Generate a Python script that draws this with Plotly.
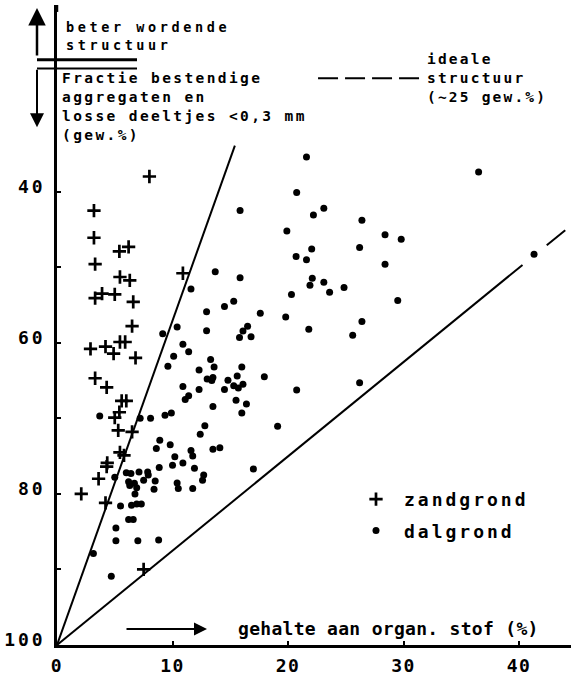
import plotly.graph_objects as go

# ---- data ----
zand_x = [8.0, 3.2, 3.2, 3.3, 5.4, 6.2, 5.45, 6.3, 3.3, 3.9, 5.0, 6.6, 6.5, 2.9, 4.2, 4.9,
          5.45, 5.9, 6.8, 3.3, 4.3, 5.6, 6.0, 5.0, 5.4, 5.3, 6.5, 5.45, 5.8, 4.35, 4.3, 3.6,
          2.1, 4.2, 10.9, 7.5]
zand_y = [38.0, 42.5, 46.1, 49.6, 47.9, 47.3, 51.3, 51.75, 54.1, 53.5, 53.6, 54.6, 57.8, 60.8,
          60.5, 61.45, 59.9, 59.9, 62.0, 64.7, 65.9, 67.7, 67.7, 69.9, 69.2, 71.6, 71.8, 74.5,
          74.9, 75.9, 76.4, 78.0, 80.0, 81.2, 50.8, 90.0]

dal_x = [21.6, 20.75, 36.5,
         11.6, 9.15, 10.4, 10.9, 11.4, 10.1, 9.6, 10.9, 12.3, 11.4, 11.1, 12.3,
         3.7, 7.2, 8.1, 9.35, 9.9, 8.9, 8.6, 9.8, 10.2, 10.9, 11.6, 11.75, 11.9, 10.0, 8.85,
         7.85, 7.9, 7.1, 5.0, 6.0, 6.4, 6.2, 6.3, 6.7, 6.9, 7.5, 8.5, 8.4, 6.75, 10.4, 10.5,
         11.75, 5.5, 6.45, 6.9, 7.3, 6.2, 6.6, 5.1, 5.1, 7.0, 8.8, 3.15, 4.7,
         15.85, 23.1, 22.2, 26.4, 19.9, 26.2, 22.05, 20.7, 21.6, 13.7, 15.85, 22.1, 21.9, 23.1,
         23.6, 24.85, 20.3, 15.3, 14.5, 12.95, 17.6, 19.8, 12.95, 21.8, 26.4, 25.6, 16.5, 16.1,
         15.8, 16.8, 13.3, 13.6, 16.0, 13.0, 13.4, 13.5, 14.8, 15.6, 15.3, 15.7, 16.1, 17.95,
         14.5, 15.5, 16.4, 13.5, 20.75, 26.2,
         16.0, 19.1, 12.8, 12.4, 13.5, 14.1, 17.0, 12.7, 12.6,
         28.4, 29.8, 28.4, 29.5, 41.3]
dal_y = [35.4, 40.1, 37.4,
         52.9, 58.8, 57.9, 60.2, 61.2, 61.8, 63.1, 65.8, 66.2, 67.0, 67.5, 63.6,
         69.7, 70.0, 70.0, 69.6, 69.3, 72.9, 74.0, 73.5, 75.1, 75.9, 74.25, 75.0, 76.6, 76.2,
         76.5, 77.1, 77.5, 77.1, 77.8, 77.2, 77.3, 78.4, 78.9, 78.6, 79.2, 78.2, 78.3, 79.4,
         80.0, 78.55, 79.3, 79.3, 81.6, 81.5, 81.35, 81.35, 83.4, 83.4, 84.5, 86.2, 86.2, 86.1,
         87.9, 90.9,
         42.5, 42.2, 43.1, 43.8, 45.2, 47.4, 47.6, 48.6, 49.0, 50.6, 51.4, 51.45, 52.4, 52.0,
         53.3, 52.7, 53.6, 54.5, 55.2, 55.9, 56.1, 56.6, 58.4, 58.2, 57.2, 59.0, 57.8, 58.45,
         59.3, 59.2, 62.2, 63.2, 63.2, 64.8, 65.0, 64.6, 64.95, 64.4, 65.7, 66.0, 65.5, 64.5,
         66.2, 67.6, 68.1, 68.45, 66.25, 65.3,
         69.3, 71.05, 71.0, 72.1, 74.1, 73.9, 76.7, 77.5, 78.2,
         45.7, 46.3, 49.6, 54.4, 48.3]

steep_x = [0, 15.4]
steep_y = [100, 33.9]
shallow_x = [0, 40.3, None, 42.4, 44.0]
shallow_y = [100, 49.7, None, 47.1, 45.1]
ideal_x = [22.6, 31.6]
ideal_y = [25, 25]

x_ticks = [0, 10, 20, 30, 40]
x_ticktext = ["0", "10", "20", "30", "40"]
y_ticks = [40, 50, 60, 70, 80, 90, 100]
y_ticktext = ["40", "", "60", "", "80", "", "100"]

FONT = "DejaVu Sans Mono"
W, H = 571, 676
L, R, T, B = 57, 0, 5, 27
PW, PH = W - L - R, H - T - B


def px(x):
    return (x - L) / PW


def py(y):
    return (H - B - y) / PH


def spaced(s, sp):
    return '<span style="letter-spacing:%spx">%s</span>' % (sp, s) if s else ""


fig = go.Figure()
fig.add_trace(go.Scatter(x=steep_x, y=steep_y, mode="lines",
                         line=dict(color="black", width=2), showlegend=False, hoverinfo="skip"))
fig.add_trace(go.Scatter(x=shallow_x, y=shallow_y, mode="lines",
                         line=dict(color="black", width=2), showlegend=False, hoverinfo="skip"))
fig.add_trace(go.Scatter(x=ideal_x, y=ideal_y, mode="lines",
                         line=dict(color="black", width=2, dash="20px,7px"), showlegend=False,
                         hoverinfo="skip"))
fig.add_trace(go.Scatter(x=zand_x, y=zand_y, mode="markers", name=spaced("zandgrond", 3),
                         legendgroup="z",
                         marker=dict(symbol="cross-thin", size=9.5, color="black",
                                     line=dict(color="black", width=2.7))))
fig.add_trace(go.Scatter(x=dal_x, y=dal_y, mode="markers", name=spaced("dalgrond", 3),
                         legendgroup="d",
                         marker=dict(symbol="circle", size=7, color="black")))

ann = []
shapes = []
# top-left arrows & separators
ann.append(dict(x=px(37), y=py(8), xref="paper", yref="paper", ax=0, ay=49, text="",
                showarrow=True, arrowhead=2, arrowsize=1.4, arrowwidth=2.5, arrowcolor="black"))
ann.append(dict(x=px(37), y=py(128), xref="paper", yref="paper", ax=0, ay=-59, text="",
                showarrow=True, arrowhead=2, arrowsize=1.4, arrowwidth=2, arrowcolor="black"))
shapes.append(dict(type="line", xref="paper", yref="paper", x0=px(37), x1=px(137),
                   y0=py(60), y1=py(60), line=dict(color="black", width=3)))
shapes.append(dict(type="line", xref="paper", yref="paper", x0=px(37), x1=px(137),
                   y0=py(69), y1=py(69), line=dict(color="black", width=2)))
shapes.append(dict(type="line", xref="paper", yref="paper", x0=0, x1=0,
                   y0=1, y1=py(12), line=dict(color="black", width=2.5)))


def txt(x, y, lines, size, sp):
    s = "<br>".join(spaced(t, sp) for t in lines)
    ann.append(dict(x=px(x), y=py(y), xref="paper", yref="paper",
                    text=s, showarrow=False, align="left",
                    xanchor="left", yanchor="middle",
                    font=dict(family=FONT, size=size, color="black", weight="bold")))


txt(64, 36.5, ["beter wordende", "structuur"], 13.5, 3.6)
txt(60, 107, ["Fractie bestendige", "aggregaten en", "losse deeltjes &lt;0,3 mm",
              "(gew.%)"], 14.5, 2.4)
txt(425, 78, ["ideale", "structuur", "(~25 gew.%)"], 14.5, 2.2)
txt(236, 632, ["gehalte aan organ. stof (%)"], 18, 0.3)

ann.append(dict(x=px(207), y=py(633), xref="paper", yref="paper", ax=-82, ay=0, text="",
                showarrow=True, arrowhead=2, arrowsize=1.3, arrowwidth=2, arrowcolor="black"))

tickfont = dict(family=FONT, size=18, color="black", weight="bold")

fig.update_layout(
    width=W, height=H,
    margin=dict(l=L, r=R, t=T, b=B, pad=0),
    paper_bgcolor="white", plot_bgcolor="white",
    font=dict(family=FONT, size=18, color="black"),
    annotations=ann, shapes=shapes,
    showlegend=True,
    legend=dict(x=px(348), y=py(484), xanchor="left", yanchor="top",
                bgcolor="rgba(0,0,0,0)", borderwidth=0, itemwidth=46,
                tracegroupgap=5, traceorder="grouped",
                font=dict(family=FONT, size=18, color="black", weight="bold")),
    xaxis=dict(range=[0, 44.5], showgrid=False, zeroline=False, showline=True,
               linecolor="black", linewidth=2.5, tickvals=x_ticks,
               ticktext=[spaced(t, 1.5) for t in x_ticktext], ticks="inside",
               ticklen=4, tickwidth=2, tickcolor="black", tickfont=tickfont,
               ticklabelstandoff=3),
    yaxis=dict(range=[100, 15.3], showgrid=False, zeroline=False, showline=True,
               linecolor="black", linewidth=2.5, tickvals=y_ticks,
               ticktext=[spaced(t, 3) for t in y_ticktext],
               ticks="inside", ticklen=4, tickwidth=2, tickcolor="black", tickfont=tickfont,
               ticklabelstandoff=5, ticklabelshift=5),
)

fig.write_html("out.html", config={"displayModeBar": False},
               post_script="document.body.style.margin='0px';")
